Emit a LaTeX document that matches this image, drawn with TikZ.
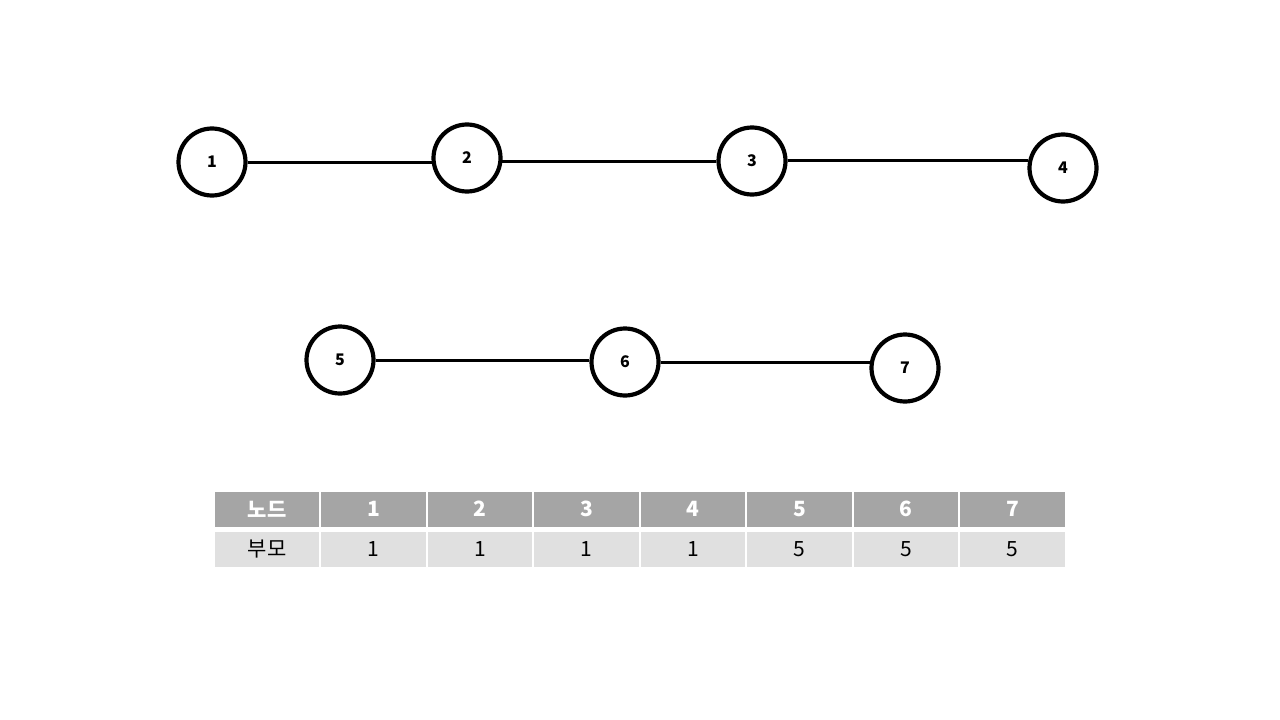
\documentclass[tikz,border=0pt]{standalone}
\usepackage{fontspec}
\setmainfont{Noto Sans CJK KR}
\definecolor{hdr}{HTML}{A5A5A5}
\definecolor{rowc}{HTML}{E0E0E0}
\begin{document}
\begin{tikzpicture}[x=1pt,y=-1pt,
  vert/.style={circle,draw=black,line width=4.2pt,minimum size=67pt,inner sep=0pt,font=\fontsize{16}{18}\selectfont\bfseries},
  edge/.style={line width=3pt},
  hcell/.style={fill=hdr,text=white,font=\fontsize{21}{24}\selectfont\bfseries,minimum width=104.5pt,minimum height=35pt,inner sep=0pt,anchor=center},
  bcell/.style={fill=rowc,text=black,font=\fontsize{21}{24}\selectfont,minimum width=104.5pt,minimum height=35pt,inner sep=0pt,anchor=center}]
\useasboundingbox (0,0) rectangle (1280,720);
\node[vert] (n1) at (212,162) {1};
\node[vert] (n2) at (467,158) {2};
\node[vert] (n3) at (752,161) {3};
\node[vert] (n4) at (1063,168) {4};
\node[vert] (n5) at (340,360) {5};
\node[vert] (n6) at (625,362) {6};
\node[vert] (n7) at (905,368) {7};
\draw[edge] (n1.east) -- ([xshift=1pt]n1.east -| n2.west);
\draw[edge] ([xshift=-1pt]n2.east |- n3.west) -- (n3.west);
\draw[edge] ([yshift=1pt]n3.east) -- ([xshift=1pt,yshift=1pt]n3.east -| n4.west);
\draw[edge] (n5.east) -- (n5.east -| n6.west);
\draw[edge] (n6.east) -- ([xshift=1pt]n6.east -| n7.west);
\node[hcell] (h0) at (267,509) {노드};
\node[bcell] (b0) at (267,549) {부모};
\foreach \i/\p in {1/1,2/1,3/1,4/1,5/5,6/5,7/5}{
  \node[hcell] (h\i) at ({267+106.5*\i},509) {\i};
  \node[bcell] (b\i) at ({267+106.5*\i},549) {\p};
}
\end{tikzpicture}
\end{document}
